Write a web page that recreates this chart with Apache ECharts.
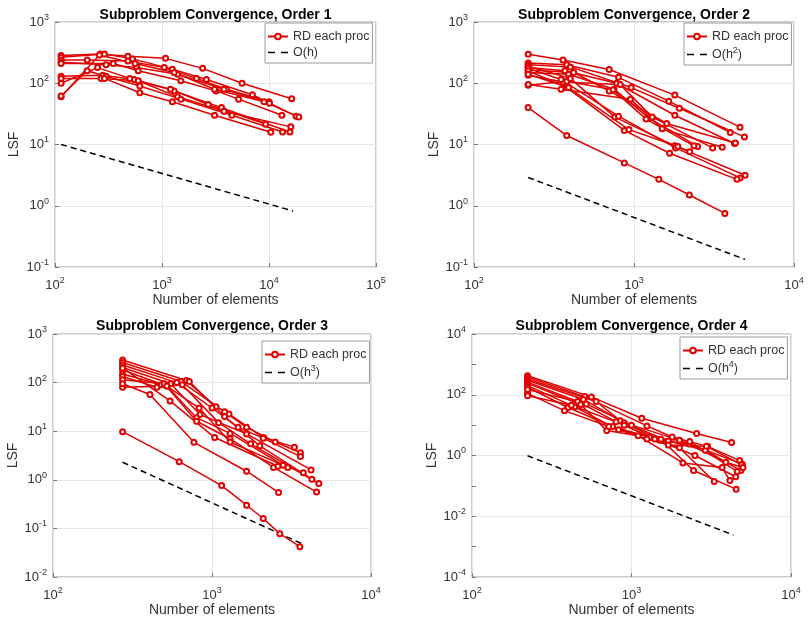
<!DOCTYPE html>
<html>
<head>
<meta charset="utf-8">
<script src="https://cdn.jsdelivr.net/npm/echarts@6/dist/echarts.min.js"></script>
<style>
  html, body { margin: 0; padding: 0; background: #fff; }
  #main { width: 811px; height: 623px; }
</style>
</head>
<body>
<div id="main"></div>
<script>
// panel titles and reference slope names
var titles = ['Subproblem Convergence, Order 1', 'Subproblem Convergence, Order 2',
              'Subproblem Convergence, Order 3', 'Subproblem Convergence, Order 4'];
var refNames = ['O(h)', 'O(h^2)', 'O(h^3)', 'O(h^4)'];

// each line: [number of elements, LSF] pairs
var order1Lines = [
  [[114,285],[265,300],[480,275],[1080,255],[2400,175],[5600,100],[16300,56]],
  [[114,265],[290,300],[530,250],[1250,170],[2600,115],[7000,65],[17900,29]],
  [[114,240],[200,240],[480,230],[1050,180],[2100,120],[4000,80],[10000,50]],
  [[114,220],[300,200],[580,180],[1400,140],[3800,80],[10100,47]],
  [[114,210],[350,210],[600,160],[1500,110],[3200,75],[5200,55],[13200,30]],
  [[114,60],[260,290],[560,210],[1300,150],[3100,80],[9000,50],[19000,28]],
  [[114,130],[280,135],[550,115],[1300,75],[3600,40],[15700,16]],
  [[114,120],[270,120],[600,110],[1400,60],[3800,35],[16000,19.4]],
  [[114,100],[250,180],[500,120],[1200,80],[2700,45],[9300,21.5]],
  [[114,62],[200,160],[300,130],[620,90],[1500,55],[4500,30],[13400,16]],
  [[290,120],[620,70],[1250,50],[3100,30],[10400,15.8]]
];
var order2Lines = [
  [[218,297],[360,240],[700,168],[1800,64],[4600,19.2]],
  [[218,215],[380,200],[800,125],[1650,51],[4000,15.7]],
  [[218,200],[400,185],[960,85],[1920,39],[4900,13.3]],
  [[218,180],[370,160],[780,100],[1800,30],[4250,10.4]],
  [[218,165],[420,150],[700,75],[1600,22],[4300,10.6]],
  [[218,150],[390,140],[750,80],[1240,27],[2500,9.3]],
  [[218,135],[360,105],[820,95],[1300,28],[3100,8.8]],
  [[218,93],[380,108],[740,78],[1190,26],[2370,9.5]],
  [[218,95],[350,80],[950,55],[1500,18],[3560,9]],
  [[218,190],[400,120],[760,28],[1800,9.5],[4950,3.15]],
  [[218,175],[350,115],[800,29],[1820,8.8],[4600,2.85]],
  [[218,160],[380,85],[870,17],[1670,7.2],[4400,2.7]],
  [[218,140],[390,85],[930,17.5],[1880,9.3],[2230,7.6]],
  [[218,40],[380,14],[870,5],[1430,2.7],[2220,1.5],[3700,0.75]]
];
var order3Lines = [
  [[274,292],[690,110],[1060,32],[1280,22.5],[2120,7.3],[3300,4.7]],
  [[274,260],[640,105],[1200,25],[1650,12],[2500,6],[3600,3.6]],
  [[274,230],[600,100],[1000,30],[1460,12],[2100,7.2],[3600,3.0]],
  [[274,205],[550,95],[840,22],[1650,8.8],[4200,1.6]],
  [[274,182],[520,85],[800,19],[1300,9],[2800,2.0],[3750,1.4]],
  [[274,150],[480,90],[720,105],[1200,20],[2000,5],[4250,1.03]],
  [[274,133],[450,80],[650,90],[1100,15],[1750,5.5],[4700,0.84]],
  [[274,115],[500,95],[800,16],[1300,7],[2440,1.8],[4550,0.56]],
  [[274,80],[520,85],[830,30],[1300,6],[3000,1.8]],
  [[274,95],[407,57],[770,5.9],[1650,1.5],[2620,0.55]],
  [[274,200],[545,42],[1040,7.4],[2600,1.9]],
  [[274,9.8],[622,2.36],[1150,0.76],[1650,0.30],[2100,0.16],[2670,0.078],[3570,0.042]]
];
var order4Lines = [
  [[223,420],[560,85],[1160,16.8],[2560,5.3],[4240,2.66]],
  [[223,380],[510,87],[1250,9.4],[1800,4.1],[3000,2.0],[4770,0.68]],
  [[223,330],[600,60],[850,14],[1500,3.2],[2300,2.4],[4960,0.52]],
  [[223,300],[500,70],[900,12],[1700,3.0],[2900,1.5],[4850,0.32]],
  [[223,260],[460,60],[800,13],[1400,3.5],[2500,1.0],[4500,0.2]],
  [[223,237],[480,48],[700,6.6],[1100,4.5],[2100,0.57],[3700,0.4],[4140,0.15]],
  [[223,200],[440,40],[830,7],[1530,3.4],[2450,0.32],[4530,0.078]],
  [[223,176],[400,38],[760,9],[1300,4.0],[2320,2.9],[4600,0.3]],
  [[223,111],[380,30],[720,9],[1250,3.5],[2000,1.8],[3300,0.14]],
  [[223,92],[420,45],[900,10],[1700,2.2],[2950,2.0],[4900,0.5]],
  [[223,150],[520,50],[1000,10],[2000,3.2],[3900,0.6],[5000,0.4]]
];
// dashed reference slopes (end points)
var refLines = [
  [[114,10],[16800,0.82]],
  [[218,2.9],[4940,0.133]],
  [[274,2.3],[3650,0.049]],
  [[223,0.98],[4360,0.0024]]
];
var xMax = [1e5, 1e4, 1e4, 1e4];
var yMin = [0.1, 0.1, 0.01, 1e-4];
var yMax = [1e3, 1e3, 1e3, 1e4];

var allLines = [order1Lines, order2Lines, order3Lines, order4Lines];
var boxes = [
  {left: 55, top: 22, width: 321, height: 245},
  {left: 474, top: 22, width: 320, height: 245},
  {left: 53, top: 334, width: 318, height: 243},
  {left: 472, top: 334, width: 319, height: 243}
];
var titleTop = [8, 8, 319, 319];
var yNameGap = [34, 29, 32, 29];
var legendPos = [[265,23],[684,23],[262,341],[680,337]];

var txt = '#333';
var red = '#e00000';
var font = 'Helvetica, "Liberation Sans", Arial, sans-serif';

function powLabel(v){
  var e = Math.round(Math.log10(v));
  return '{b|10}{e|' + e + '}';
}
var tickRich = {
  b: {fontSize: 13, color: txt, fontFamily: font},
  e: {fontSize: 9, color: txt, fontFamily: font, padding: [0,0,9,0]}
};

var option = {
  animation: false,
  backgroundColor: '#fff',
  textStyle: {fontFamily: font},
  title: [], grid: [], xAxis: [], yAxis: [], legend: [], series: []
};

for (var p = 0; p < 4; p++) {
  var b = boxes[p];
  option.title.push({
    text: titles[p], left: b.left + b.width/2, top: titleTop[p], padding: 0, textAlign: 'center',
    textStyle: {fontSize: 14, fontWeight: 'bold', color: '#000', fontFamily: font}
  });
  option.grid.push({left: b.left, top: b.top, width: b.width, height: b.height,
    show: true, borderColor: '#9a9a9a', borderWidth: 1, backgroundColor: '#fff'});
  option.xAxis.push({
    type: 'log', logBase: 10, gridIndex: p, min: 100, max: xMax[p],
    name: 'Number of elements', nameLocation: 'middle', nameGap: 26,
    nameTextStyle: {fontSize: 14, color: txt, fontFamily: font},
    axisLine: {show: false},
    axisTick: {inside: true, length: 4, lineStyle: {color: '#777'}},
    axisLabel: {formatter: powLabel, rich: tickRich, margin: 9},
    splitLine: {show: true, lineStyle: {color: '#e6e6e6', width: 1}}
  });
  var yOdd = (p === 3);
  option.yAxis.push({
    type: 'log', logBase: 10, gridIndex: p, min: yMin[p], max: yMax[p],
    name: 'LSF', nameLocation: 'middle', nameGap: yNameGap[p],
    nameTextStyle: {fontSize: 14, color: txt, fontFamily: font},
    axisLine: {show: false},
    axisTick: {inside: true, length: 4, lineStyle: {color: '#777'}},
    axisLabel: {
      formatter: yOdd ? function(v){
        var e = Math.round(Math.log10(v));
        return (e % 2 === 0) ? powLabel(v) : '';
      } : powLabel,
      rich: tickRich, margin: 6
    },
    splitLine: {show: true, lineStyle: {color: yOdd ? ['#e6e6e6', 'rgba(0,0,0,0)'] : '#e6e6e6', width: 1}}
  });
  var lines = allLines[p];
  for (var i = 0; i < lines.length; i++) {
    option.series.push({
      name: 'RD each proc', type: 'line', xAxisIndex: p, yAxisIndex: p,
      data: lines[i], symbol: 'emptyCircle', symbolSize: 5, showAllSymbol: true,
      lineStyle: {color: red, width: 1.5},
      itemStyle: {color: red, borderColor: red, borderWidth: 1.2},
      silent: true, z: 3
    });
  }
  option.series.push({
    name: refNames[p], type: 'line', xAxisIndex: p, yAxisIndex: p,
    data: refLines[p], symbol: 'none',
    lineStyle: {color: '#000', width: 1.5, type: [6, 4]},
    itemStyle: {color: '#000'},
    silent: true, z: 2
  });
  option.legend.push({
    left: legendPos[p][0], top: legendPos[p][1], orient: 'vertical',
    data: [
      {name: 'RD each proc'},
      {name: refNames[p], itemStyle: {opacity: 0}, lineStyle: {color: '#000', width: 1.5, type: [7, 6]}}
    ],
    backgroundColor: '#fff', borderColor: '#9a9a9a', borderWidth: 1, borderRadius: 0,
    padding: [7, 3, 4, 2], itemWidth: 20, itemHeight: 7, itemGap: 3,
    selectedMode: false,
    textStyle: {fontSize: 12.5, color: txt, fontFamily: font,
      rich: {sup: {fontSize: 9, color: txt, fontFamily: font, padding: [0,0,8,0]}}},
    formatter: function(name){ return name.replace(/\^(\d)/, '{sup|$1}'); }
  });
}

var chart = echarts.init(document.getElementById('main'), null, {renderer: 'canvas'});
chart.setOption(option);
</script>
</body>
</html>
